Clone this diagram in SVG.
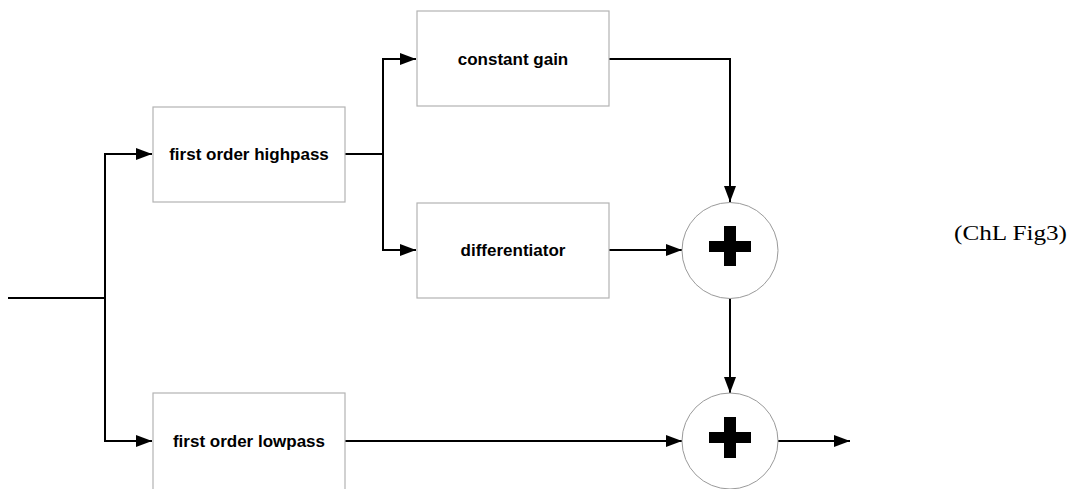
<svg xmlns="http://www.w3.org/2000/svg" width="1071" height="489" viewBox="0 0 1071 489">
<defs>
<style>
.box{fill:#fff;stroke:#b3b3b3;stroke-width:1.2}
.sum{fill:#fff;stroke:#9a9a9a;stroke-width:1}
.lbl{font-family:"Liberation Sans",Arial,sans-serif;font-weight:bold;font-size:17px;fill:#000;text-anchor:middle}
.wire{fill:none;stroke:#000;stroke-width:2}
.plus{fill:#000}
</style>
<marker id="arr" viewBox="0 0 16 12" refX="16" refY="6" markerWidth="16" markerHeight="12" markerUnits="userSpaceOnUse" orient="auto">
<path d="M0,0 L16,6 L0,12 z" fill="#000"/>
</marker>
</defs>
<rect width="1071" height="489" fill="#fff"/>
<g id="connectors">
<path class="wire" d="M8,298 H105"/>
<path class="wire" d="M105,441 V154 H152" marker-end="url(#arr)"/>
<path class="wire" d="M105,298 V441 H152" marker-end="url(#arr)"/>
<path class="wire" d="M345,154 H383 V59 H416" marker-end="url(#arr)"/>
<path class="wire" d="M383,154 V250 H416" marker-end="url(#arr)"/>
<path class="wire" d="M609,59 H730 V202" marker-end="url(#arr)"/>
<path class="wire" d="M609,250 H682" marker-end="url(#arr)"/>
<path class="wire" d="M730,298 V393" marker-end="url(#arr)"/>
<path class="wire" d="M345,441 H682" marker-end="url(#arr)"/>
<path class="wire" d="M778,441 H850" marker-end="url(#arr)"/>
</g>
<g id="highpass">
<rect class="box" x="153" y="107" width="192" height="95"/>
<text class="lbl" x="249" y="160">first order highpass</text>
</g>
<g id="constant-gain">
<rect class="box" x="417" y="11" width="192" height="95"/>
<text class="lbl" x="513" y="65">constant gain</text>
</g>
<g id="differentiator">
<rect class="box" x="417" y="203" width="192" height="95"/>
<text class="lbl" x="513" y="256">differentiator</text>
</g>
<g id="lowpass">
<rect class="box" x="153" y="393" width="192" height="110"/>
<text class="lbl" x="249" y="447">first order lowpass</text>
</g>
<g id="sum1">
<circle class="sum" cx="730" cy="250.5" r="48"/>
<path class="plus" d="M724,226 H736 V241 H751 V252 H736 V266 H724 V252 H709 V241 H724 Z"/>
</g>
<g id="sum2">
<circle class="sum" cx="730" cy="441" r="48"/>
<path class="plus" d="M724,417 H736 V432 H751 V443 H736 V458 H724 V443 H709 V432 H724 Z"/>
</g>
<text x="954" y="240" font-family="'Liberation Serif','Times New Roman',serif" font-size="22" textLength="113" lengthAdjust="spacingAndGlyphs">(ChL Fig3)</text>
</svg>
